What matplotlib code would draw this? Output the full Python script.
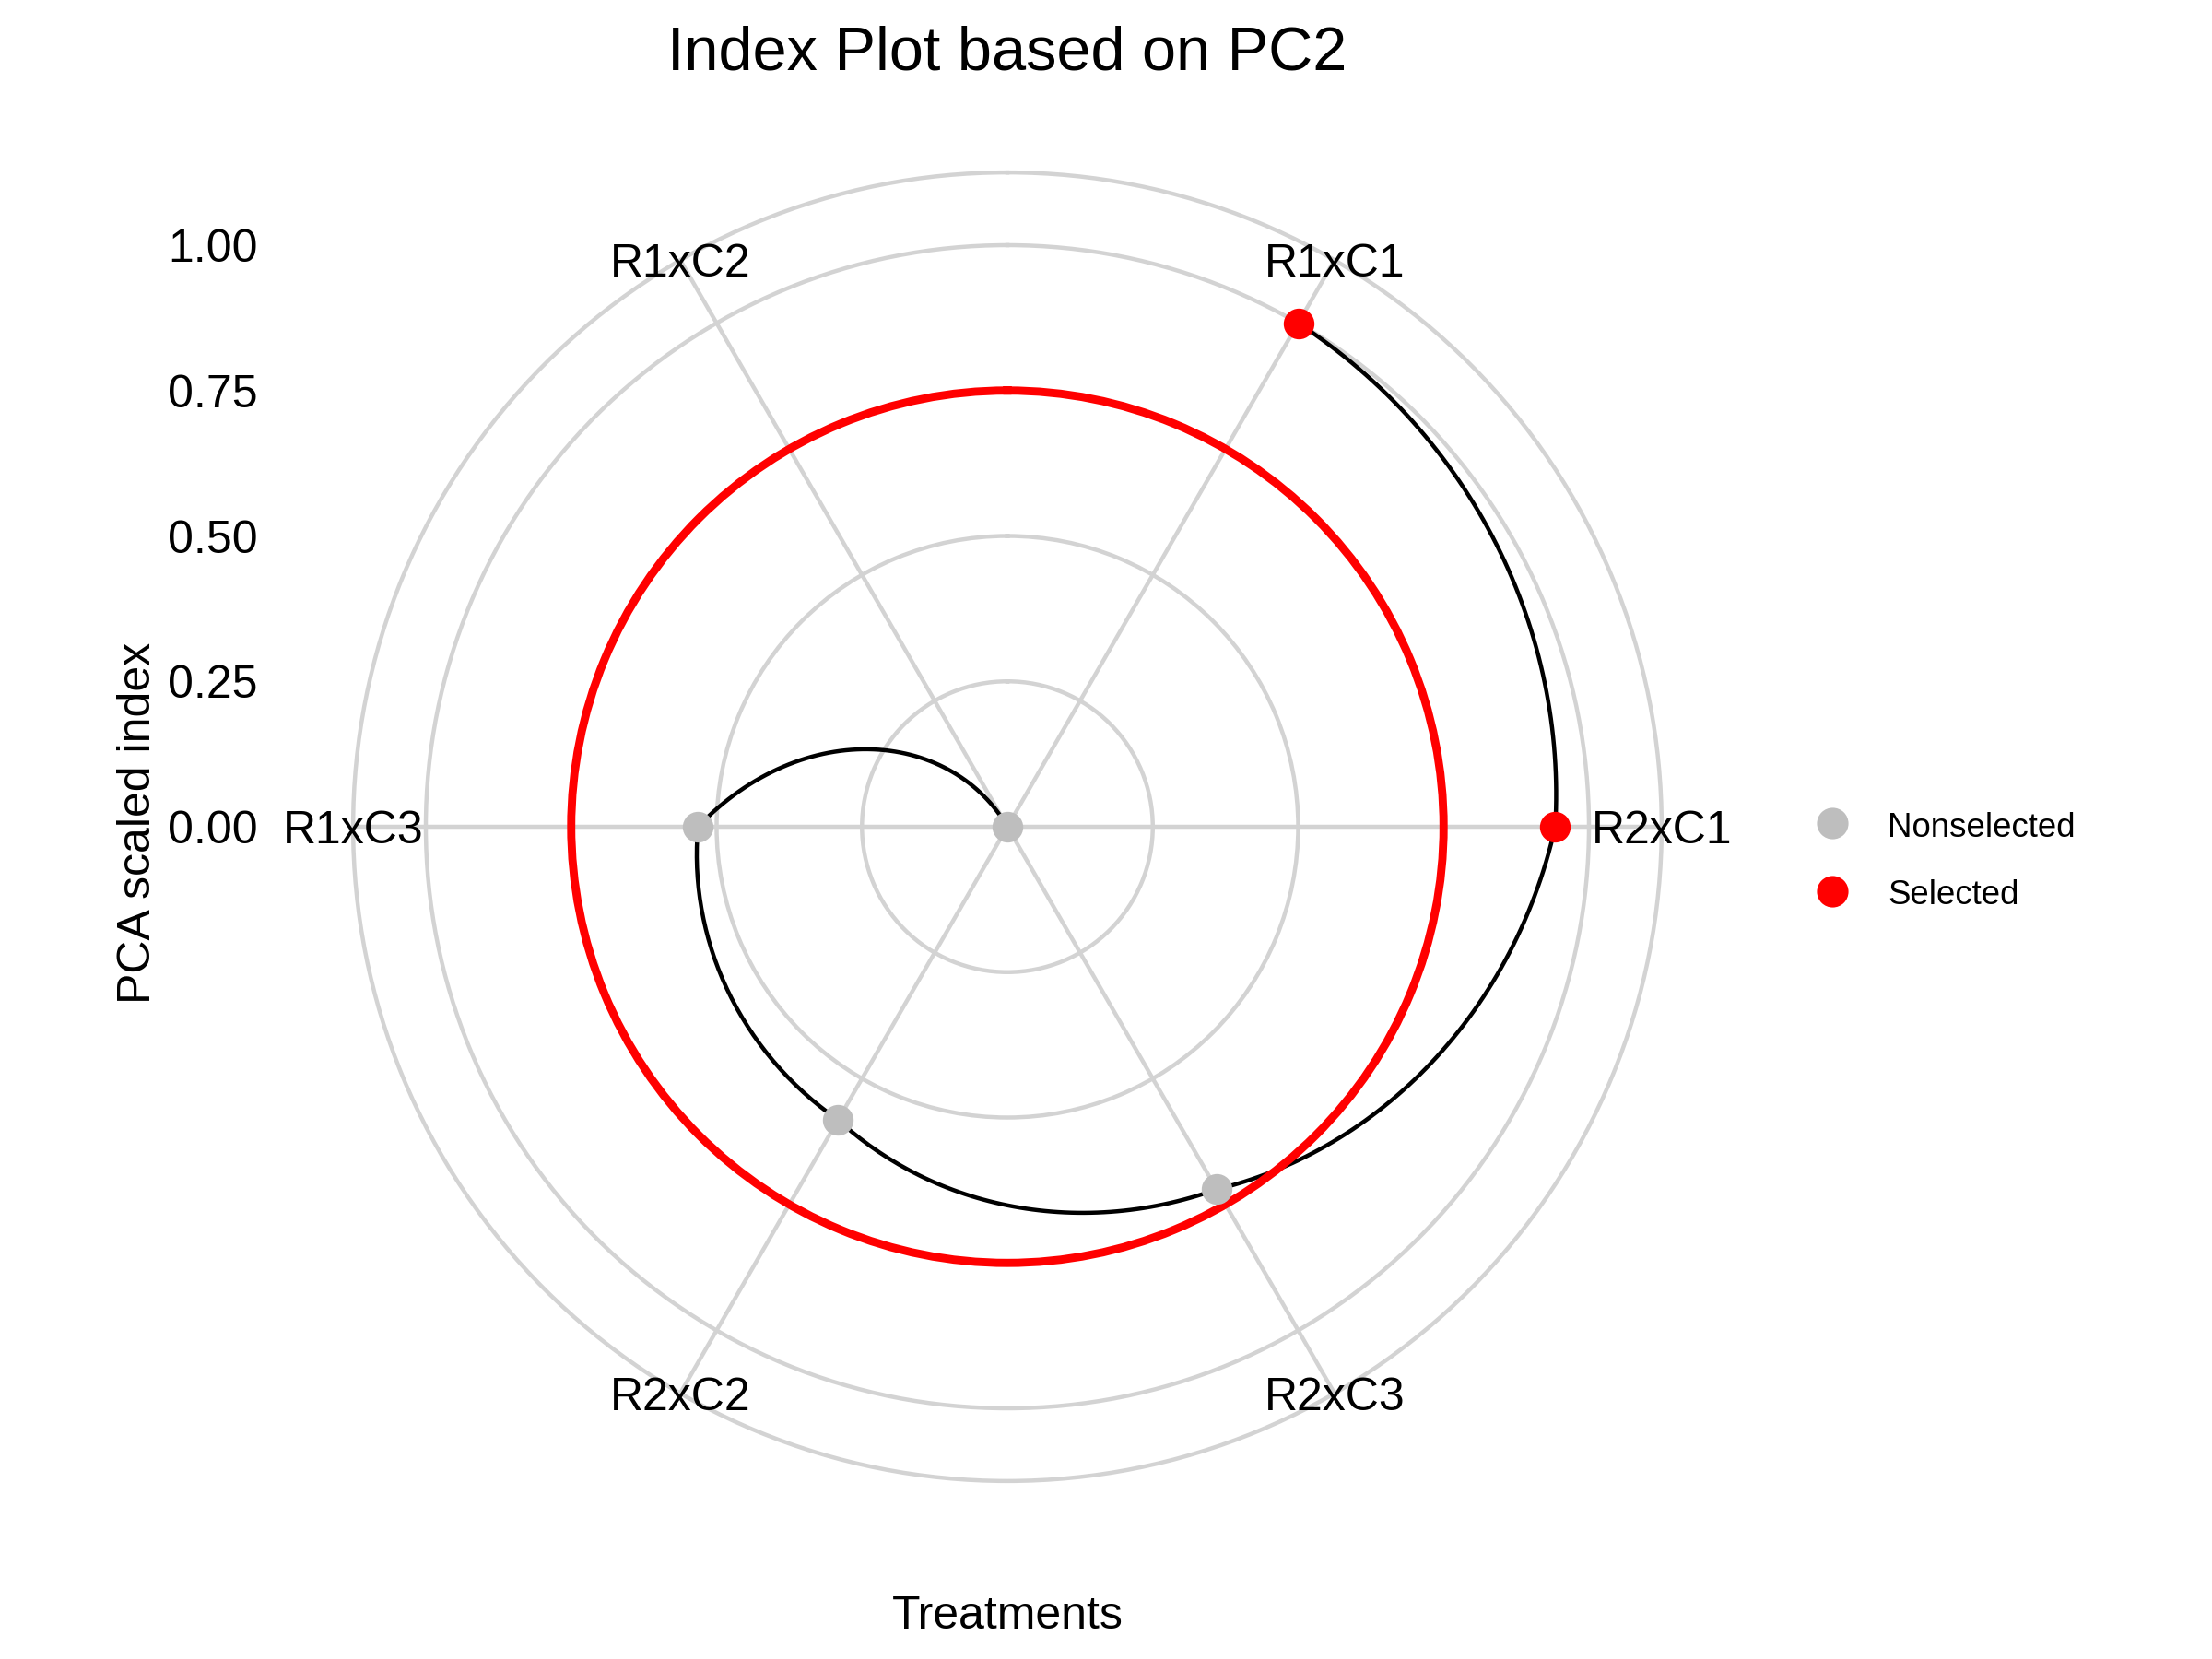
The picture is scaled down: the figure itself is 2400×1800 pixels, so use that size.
import numpy as np
import matplotlib
matplotlib.use("Agg")
import matplotlib.pyplot as plt
from matplotlib.lines import Line2D

plt.rcParams['font.family'] = ['Liberation Sans', 'DejaVu Sans']

# ---- data ----
treatments = ["R1xC1", "R2xC1", "R2xC3", "R2xC2", "R1xC3", "R1xC2"]
pca_index = [1.00, 0.942, 0.72, 0.582, 0.532, 0.00]
status = ["Selected", "Selected", "Nonselected", "Nonselected", "Nonselected", "Nonselected"]
threshold = 0.75
r_ticks = [0.00, 0.25, 0.50, 0.75, 1.00]
r_tick_labels = ["0.00", "0.25", "0.50", "0.75", "1.00"]
legend_order = ["Nonselected", "Selected"]
status_colors = {"Nonselected": "#BEBEBE", "Selected": "#FF0000"}
title = "Index Plot based on PC2"
xlab = "Treatments"
ylab = "PCA scaled index"

# ---- figure geometry (pixels) ----
W, H, DPI = 2400, 1800, 300
fig = plt.figure(figsize=(W / DPI, H / DPI), dpi=DPI)
fig.patch.set_facecolor("white")

cx, cy, R1 = 1093, 897, 631     # panel centre and radius of r = 1
rmax = 1.125                     # outer ring (ggplot 0.45 / 0.40)
half = R1 * rmax
rect = [(cx - half) / W, (H - cy - half) / H, 2 * half / W, 2 * half / H]
grid_col = "#D3D3D3"
lw_grid = 1.07

ax = fig.add_axes(rect, projection="polar")
ax.set_theta_zero_location("N")
ax.set_theta_direction(-1)
n = len(treatments)
theta = (np.arange(n) + 0.5) * 2 * np.pi / n
vals = np.array(pca_index)
ax.set_ylim(0, rmax)
ax.set_xticks(theta)
ax.set_xticklabels([])
ax.set_yticks(r_ticks[1:])
ax.set_yticklabels([])
ax.tick_params(length=0)
ax.grid(True, color=grid_col, linewidth=lw_grid)
ax.spines["polar"].set_color(grid_col)
ax.spines["polar"].set_linewidth(lw_grid)
ax.set_facecolor("white")

# spiral path between points (polar interpolation done by matplotlib's transform)
line, = ax.plot(theta, vals, color="black", lw=1.07, zorder=3)
line.get_path()._interpolation_steps = 64

# selection threshold ring
ring, = ax.plot([0, 2 * np.pi], [threshold, threshold], color="#FF0000", lw=2.13, zorder=3.5)
ring.get_path()._interpolation_steps = 2

# points
st = np.array(status)
for s in legend_order:
    m = st == s
    ax.plot(theta[m], vals[m], ls="none", marker="o", ms=7.0, color=status_colors[s],
            zorder=5, clip_on=False)

# theta labels centred on outer ring
cap = 0.716 * 12
for t, lbl in zip(theta, treatments):
    ax.annotate(lbl, xy=(t, rmax), xytext=(0, -cap / 2), textcoords="offset points",
                ha="center", va="baseline", fontsize=12, annotation_clip=False)

# radial axis labels on the left
ax2 = fig.add_axes(rect, facecolor="none")
ax2.set_ylim(-rmax, rmax)
ax2.set_xlim(0, 1)
ax2.set_yticks(r_ticks)
ax2.set_yticklabels(r_tick_labels, fontsize=12)
ax2.set_xticks([])
for s in ax2.spines.values():
    s.set_visible(False)
left_px = cx - half
ax2.tick_params(axis="y", length=0, pad=(left_px - 280) * 72 / DPI)

# titles
fig.text(cx / W, 1 - 76 / H, title, ha="center", va="baseline", fontsize=16)
fig.text(cx / W, 1 - 1767 / H, xlab, ha="center", va="baseline", fontsize=12)
fig.text(163 / W, 1 - 893 / H, ylab, ha="center", va="baseline", fontsize=12,
         rotation=90, rotation_mode="anchor")

# legend
handles = [Line2D([], [], ls="none", marker="o", ms=7.2, color=status_colors[s])
           for s in legend_order]
fig.legend(handles, legend_order, loc="center left",
           bbox_to_anchor=((1987.7 - 0.6 * 8.8 * DPI / 72) / W, 1 - 934 / H),
           frameon=False, fontsize=8.8, handlelength=1.2, handletextpad=1.05,
           labelspacing=1.0, borderpad=0, borderaxespad=0, handleheight=1.0)

fig.savefig("out.png", dpi=DPI, facecolor="white")
